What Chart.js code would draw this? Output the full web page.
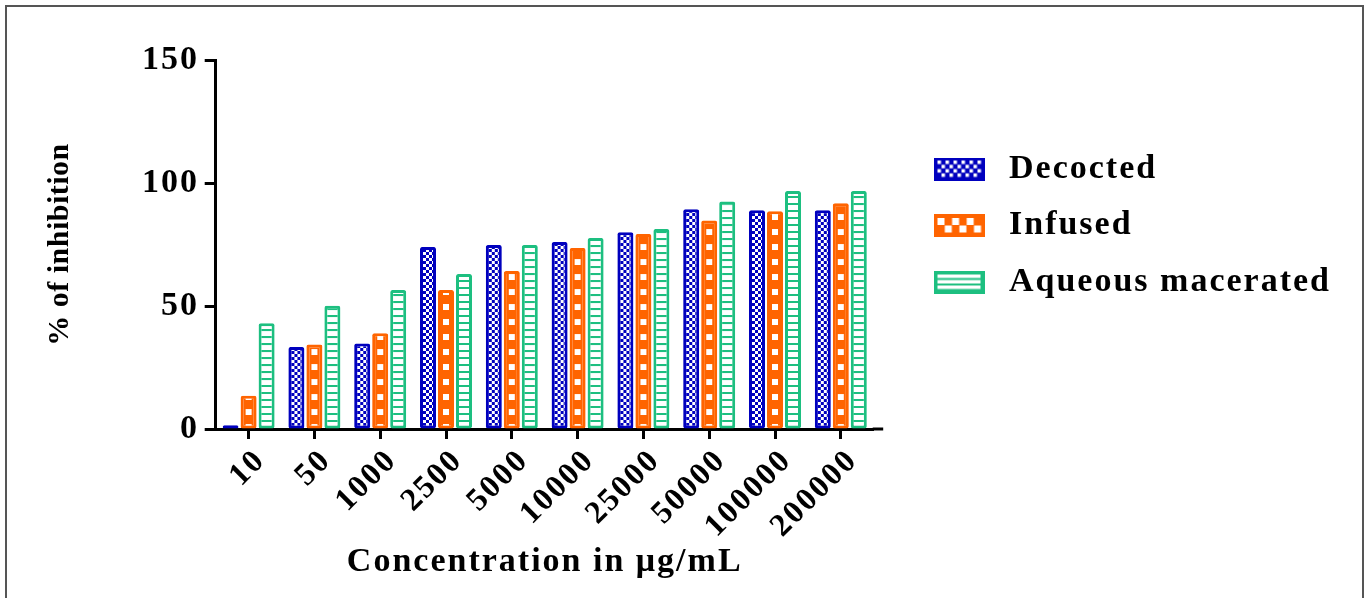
<!DOCTYPE html>
<html><head><meta charset="utf-8">
<script src="https://cdn.jsdelivr.net/npm/chart.js@4.4.1/dist/chart.umd.min.js"></script>
<style>
html,body{margin:0;padding:0;background:#fff;overflow:hidden}
#wrap{position:relative;width:1367px;height:598px}
#frame{position:absolute;left:5px;top:5px;width:1355px;height:640px;border:2px solid #555;pointer-events:none}
canvas{position:absolute;left:0;top:0}
</style></head><body>
<div id="wrap"><canvas id="c" width="1367" height="598"></canvas><div id="frame"></div></div>
<script>
// ---- data ----
const categories = ['10','50','1000','2500','5000','10000','25000','50000','100000','200000'];
const decocted = [1.5, 33.3, 34.8, 74.0, 74.8, 76.0, 80.0, 89.3, 88.9, 88.9];
const infused  = [13.5, 34.4, 38.9, 56.5, 64.2, 73.6, 79.3, 84.8, 88.5, 91.8];
const aqueousMacerated = [43.0, 50.1, 56.5, 63.0, 74.8, 77.6, 81.3, 92.5, 96.7, 96.7];
const seriesNames = ['Decocted', 'Infused', 'Aqueous macerated'];
const yTickValues = [0, 50, 100, 150];

// ---- style ----
const FONT = '"Liberation Serif", "Times New Roman", serif';
const BLUE = '#0000BE', ORANGE = '#FF6400', GREEN = '#1DBF80';
const CAT_PCT = 0.8207, BAR_PCT = 0.889;

function tile(w, h, fn){ const c = document.createElement('canvas'); c.width = w; c.height = h; fn(c.getContext('2d')); return c; }
const barTiles = [
  tile(16, 6, g => { g.fillStyle = BLUE; g.fillRect(0,0,16,6); g.fillStyle = '#fff';
    for (let r = 0; r < 2; r++) for (let k = 0; k < 4; k++) if ((r + k) % 2 === 0) g.fillRect(3 + k*3, r*3, 3, 3); }),
  tile(16, 15, g => { g.fillStyle = ORANGE; g.fillRect(0,0,16,15); g.fillStyle = '#fff'; g.fillRect(5, 4, 6, 6); }),
  tile(16, 7, g => { g.fillStyle = '#fff'; g.fillRect(0,0,16,7); g.fillStyle = GREEN; g.fillRect(0, 0, 16, 2); })
];
const legendImgs = [
  tile(51, 23, g => { g.fillStyle = BLUE; g.fillRect(0,0,51,23); g.fillStyle = '#fff';
    for (let r = 0; r < 4; r++) for (let k = 0; k < 11; k++) if ((r + k) % 2 === 0) g.fillRect(4 + k*4, 3 + r*4.3, 3.5, 3.5); }),
  tile(51, 23, g => { g.fillStyle = ORANGE; g.fillRect(0,0,51,23); g.fillStyle = '#fff';
    for (let r = 0; r < 2; r++) for (let k = 0; k < 6; k++) if ((r + k) % 2 === 0) g.fillRect(4 + k*7.3, 4 + r*7.5, 7, 7); }),
  tile(51, 23, g => { g.fillStyle = GREEN; g.fillRect(0,0,51,23); g.fillStyle = '#fff';
    for (let r = 0; r < 3; r++) g.fillRect(4, 4 + r*5.5, 43, 3.5); })
];
const colors = [BLUE, ORANGE, GREEN];
const seriesData = [decocted, infused, aqueousMacerated];

const cv = document.getElementById('c');
const ctx2d = cv.getContext('2d');

function patternFor(ds){
  return (c) => {
    const xs = c.chart.scales && c.chart.scales.x;
    if (!xs || c.type !== 'data' || !isFinite(xs.left)) return colors[ds];
    const catW = (xs.right - xs.left) / categories.length;
    const group = catW * CAT_PCT, slot = group / 3, bw = slot * BAR_PCT;
    const left = xs.getPixelForValue(c.dataIndex) - group/2 + slot*c.datasetIndex + (slot - bw)/2;
    const p = ctx2d.createPattern(barTiles[ds], 'repeat');
    p.setTransform(new DOMMatrix().translate(left, 0));
    return p;
  };
}

const layoutPlugin = {
  id: 'layoutTweaks',
  beforeLayout(chart){
    const lg = chart.legend;
    if (lg && !lg._patched){
      const f = lg.fit;
      lg.fit = function(){ f.call(this); this.width = 1367 - 873.7; };
      lg._patched = true;
    }
  },
  afterLayout(chart){
    const lg = chart.legend;
    if (lg){ const w = lg.width, h = lg.height; lg.left = 903.5; lg.right = 903.5 + w; lg.top = 129.5; lg.bottom = 129.5 + h; }
    const ys = chart.scales.y;
    if (ys && !ys._wrapped){
      const dt = ys.drawTitle;
      ys.drawTitle = function(){ const g = this.ctx; const o = g.letterSpacing; g.letterSpacing = '0.5px'; dt.call(this); g.letterSpacing = o; };
      ys._wrapped = true;
    }
  },
  beforeDraw(chart){ chart.ctx.letterSpacing = '2px'; },
  afterDraw(chart){
    const g = chart.ctx, a = chart.chartArea, y = chart.scales.x.top;
    g.save(); g.strokeStyle = '#000'; g.lineWidth = 3;
    g.beginPath(); g.moveTo(a.right - 1, y); g.lineTo(a.right + 9.5, y); g.stroke(); g.restore();
  }
};

new Chart(cv, {
  type: 'bar',
  data: {
    labels: categories,
    datasets: seriesNames.map((n, i) => ({
      label: n,
      data: seriesData[i],
      backgroundColor: patternFor(i),
      borderColor: colors[i],
      borderWidth: 3,
      borderRadius: 2,
      borderSkipped: false,
      categoryPercentage: CAT_PCT,
      barPercentage: BAR_PCT
    }))
  },
  options: {
    responsive: false,
    animation: false,
    layout: { padding: { left: 20, top: 60, right: 0, bottom: 0 } },
    plugins: {
      tooltip: { enabled: false },
      legend: {
        position: 'right',
        align: 'start',
        labels: {
          usePointStyle: true,
          pointStyleWidth: 66,
          padding: 22.5,
          color: '#000',
          font: { family: FONT, size: 34, weight: 'bold' },
          generateLabels: (chart) => seriesNames.map((n, i) => ({
            text: n, pointStyle: legendImgs[i], fillStyle: colors[i], strokeStyle: colors[i],
            lineWidth: 0, hidden: false, datasetIndex: i, fontColor: '#000'
          }))
        }
      }
    },
    scales: {
      x: {
        type: 'category',
        offset: true,
        grid: { display: true, drawOnChartArea: false, offset: false, drawTicks: true, tickLength: 10, tickWidth: 3, tickColor: '#000', color: '#000' },
        border: { display: true, color: '#000', width: 3 },
        ticks: { color: '#000', font: { family: FONT, size: 32, weight: 'bold' }, minRotation: 45, maxRotation: 45, padding: 3, labelOffset: 12, autoSkip: false },
        title: { display: true, text: 'Concentration in μg/mL', color: '#000', font: { family: FONT, size: 34, weight: 'bold' }, padding: { top: 0, bottom: 15.6 } },
        afterFit(s){ s.height = 598 - 429; }
      },
      y: {
        min: 0, max: 150,
        afterBuildTicks(s){ s.ticks = yTickValues.map(v => ({ value: v })); },
        grid: { display: true, drawOnChartArea: false, drawTicks: true, tickLength: 11, tickWidth: 3, tickColor: '#000', color: '#000' },
        border: { display: true, color: '#000', width: 3 },
        ticks: { color: '#000', font: { family: FONT, size: 34, weight: 'bold' }, padding: 5.7 },
        title: { display: true, text: '% of inhibition', color: '#000', font: { family: FONT, size: 30, weight: 'bold' }, padding: { top: 22, bottom: 0 } },
        afterFit(s){ s.width = 195.7; }
      }
    }
  },
  plugins: [layoutPlugin]
});
</script>
</body></html>
